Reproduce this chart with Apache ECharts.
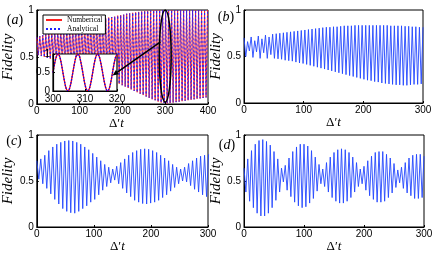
<!DOCTYPE html>
<html><head><meta charset="utf-8">
<script src="https://cdn.jsdelivr.net/npm/echarts@6/dist/echarts.min.js"></script>
<style>html,body{margin:0;padding:0;background:#fff}#c{width:436px;height:258px}</style>
</head><body><div id="c"></div>
<script>
// ---- data ----
// Each panel: alternating extreme values (peak, trough, peak, ...) spaced halfStep apart in Δ't.
const halfStepA = 3.5;
const peaksA   = [0.71,0.72,0.73,0.74,0.75,0.76,0.77,0.78,0.79,0.795,0.80,0.81,0.82,0.83,0.84,0.845,0.855,0.86,0.87,0.88,
                  0.89,0.895,0.90,0.91,0.92,0.925,0.93,0.94,0.945,0.95,0.96,0.965,0.97,0.975,0.98,0.985,0.99,0.992,0.995,0.997,
                  1.0,1.0,1.0,1.0,1.0,1.0,1.0,1.0,1.0,1.0,1.0,1.0,1.0,1.0,1.0,1.0,1.0,1.0];
const troughsA = [0.52,0.51,0.50,0.49,0.48,0.475,0.465,0.455,0.445,0.43,0.42,0.41,0.40,0.39,0.375,0.365,0.355,0.345,0.33,0.32,
                  0.31,0.30,0.285,0.27,0.255,0.24,0.23,0.215,0.20,0.185,0.17,0.155,0.14,0.125,0.11,0.095,0.08,0.065,0.05,0.04,
                  0.025,0.015,0.01,0.005,0.01,0.015,0.02,0.025,0.03,0.035,0.04,0.045,0.05,0.055,0.06,0.065,0.07];

const halfStepB = 3;
const peaksB   = [0.70,0.66,0.71,0.67,0.72,0.69,0.73,0.71,0.74,0.745,0.75,0.755,0.76,0.765,0.77,0.775,0.78,0.785,0.79,0.795,
                  0.80,0.805,0.81,0.815,0.815,0.82,0.82,0.825,0.83,0.83,0.83,0.835,0.835,0.835,0.835,0.835,0.835,0.835,0.835,0.835,
                  0.835,0.83,0.83,0.83,0.83,0.825,0.825,0.82,0.82,0.815,0.815];
const troughsB = [0.50,0.56,0.49,0.55,0.48,0.54,0.48,0.52,0.48,0.475,0.47,0.46,0.455,0.45,0.44,0.43,0.425,0.415,0.405,0.395,
                  0.385,0.375,0.365,0.355,0.345,0.335,0.325,0.315,0.305,0.295,0.285,0.275,0.265,0.255,0.245,0.24,0.23,0.225,0.215,0.21,
                  0.205,0.2,0.195,0.195,0.19,0.19,0.195,0.2,0.2,0.205];

const halfStepC = 3.5;
const peaksC   = [0.72,0.74,0.78,0.83,0.87,0.90,0.92,0.935,0.94,0.935,0.92,0.90,0.87,0.84,0.80,0.76,0.72,0.68,0.65,0.63,
                  0.66,0.70,0.74,0.78,0.81,0.83,0.845,0.85,0.845,0.83,0.81,0.78,0.75,0.72,0.68,0.65,0.63,0.65,0.69,0.72,
                  0.75,0.77,0.78,0.79];
const troughsC = [0.52,0.47,0.42,0.36,0.30,0.25,0.20,0.17,0.155,0.15,0.17,0.20,0.23,0.27,0.30,0.35,0.40,0.44,0.48,0.51,
                  0.47,0.42,0.37,0.33,0.29,0.27,0.255,0.25,0.26,0.27,0.29,0.32,0.35,0.39,0.43,0.47,0.50,0.49,0.45,0.41,
                  0.38,0.35,0.33];

const halfStepD = 3.125;
const peaksD   = [0.64,0.74,0.83,0.90,0.94,0.95,0.93,0.89,0.82,0.74,0.64,0.67,0.75,0.82,0.87,0.90,0.90,0.88,0.83,0.76,
                  0.68,0.63,0.70,0.76,0.81,0.84,0.85,0.84,0.81,0.76,0.70,0.63,0.66,0.72,0.77,0.81,0.82,0.82,0.79,0.75,
                  0.69,0.62,0.65,0.70,0.75,0.78,0.79,0.79,0.77];
const troughsD = [0.38,0.28,0.21,0.15,0.12,0.12,0.15,0.21,0.29,0.38,0.49,0.40,0.33,0.27,0.23,0.21,0.22,0.26,0.31,0.39,
                  0.47,0.44,0.38,0.32,0.28,0.26,0.26,0.28,0.32,0.38,0.44,0.47,0.40,0.34,0.30,0.27,0.27,0.28,0.32,0.37,
                  0.43,0.48,0.42,0.37,0.34,0.31,0.31,0.32];

// inset of panel (a): Δ't from 300 to 320, step 0.5
const insetStart = 300, insetStep = 0.5;
const insetF = [0.50,0.74,0.92,1.00,0.95,0.79,0.55,0.30,0.10,0.01,0.03,0.17,0.40,0.65,0.86,0.98,0.98,0.86,0.65,0.40,
                0.17,0.03,0.01,0.10,0.30,0.55,0.79,0.95,1.00,0.92,0.74,0.50,0.26,0.08,0.00,0.05,0.21,0.45,0.70,0.90,0.99];

const legendNames = ['Numberical','Analytical'];
const panelLabels = ['a','b','c','d'];

// ---- build ----
function zig(peaks, troughs, half){
  const out = [];
  for (let i = 0; i < peaks.length; i++){
    out.push([2*i*half, peaks[i]]);
    if (i < troughs.length) out.push([(2*i+1)*half, troughs[i]]);
  }
  return out;
}
const insetData = insetF.map((v,i)=>[insetStart + i*insetStep, v]);

const serif = 'Liberation Serif', sans = 'Liberation Sans';
const grids = [
  {left:33,  top:10,  width:175, height:94},
  {left:244, top:10,  width:179, height:93},
  {left:33,  top:135, width:175, height:92},
  {left:244, top:135, width:180, height:92},
].map(g=>Object.assign(g,{show:true,borderColor:'#000',borderWidth:1,backgroundColor:'transparent'}));
grids.push({left:53, top:54, width:64, height:37, z:5, show:true, borderColor:'#000', borderWidth:1.2, backgroundColor:'#fff'});

const nameRich = {u:{fontFamily:serif,fontSize:13,color:'#000'}, i:{fontFamily:serif,fontStyle:'italic',fontSize:13,color:'#000'}};
function mkX(gi, max, gap, shift){
  return {type:'value', gridIndex:gi, min:0, max:max, interval:100,
    axisLine:{show:true,onZero:false,lineStyle:{color:'#000',width:1}},
    axisTick:{show:true,inside:true,length:2,lineStyle:{color:'#000'}},
    axisLabel:{color:'#000',fontSize:10,fontFamily:sans,margin:2},
    splitLine:{show:false},
    name:'{u|Δ′}{i|t}', nameLocation:'middle', nameGap:gap,
    nameTextStyle:{padding:[0,shift,0,0], rich:nameRich}};
}
function mkY(gi){
  return {type:'value', gridIndex:gi, min:0, max:1, interval:0.5,
    axisLine:{show:true,onZero:false,lineStyle:{color:'#000',width:1}},
    axisTick:{show:true,inside:true,length:2,lineStyle:{color:'#000'}},
    axisLabel:{color:'#000',fontSize:10,fontFamily:sans,margin:3},
    splitLine:{show:false},
    name:'Fidelity', nameLocation:'middle', nameGap:16,
    nameTextStyle:{fontFamily:serif,fontStyle:'italic',fontSize:15,color:'#000'}};
}
const xAxes = [mkX(0,400,4,12), mkX(1,300,4,0), mkX(2,300,5,10), mkX(3,300,5,0),
  {type:'value', gridIndex:4, min:300, max:320, interval:10, z:7,
   axisLine:{show:true,onZero:false,lineStyle:{color:'#000',width:1.2}},
   axisTick:{show:true,inside:true,length:2,lineStyle:{color:'#000'}},
   axisLabel:{color:'#000',fontSize:10,fontFamily:sans,margin:3}, splitLine:{show:false}}];
const yAxes = [mkY(0), mkY(1), mkY(2), mkY(3),
  {type:'value', gridIndex:4, min:0, max:1, interval:0.5, z:7,
   axisLine:{show:true,onZero:false,lineStyle:{color:'#000',width:1.2}},
   axisTick:{show:true,inside:true,length:2,lineStyle:{color:'#000'}},
   axisLabel:{color:'#000',fontSize:10,fontFamily:sans,margin:3}, splitLine:{show:false}}];

const blue = '#2447ff';
function ln(name, idx, data, color, type, width, extra){
  return Object.assign({type:'line', name:name, xAxisIndex:idx, yAxisIndex:idx, data:data,
    symbol:'none', showSymbol:false, animation:false, clip:true,
    lineStyle:{color:color, width:width, type:type}, itemStyle:{color:color}}, extra||{});
}
const series = [
  ln(legendNames[0], 0, zig(peaksA,troughsA,halfStepA), '#ff2020', 'solid', 0.9),
  ln(legendNames[1], 0, zig(peaksA,troughsA,halfStepA), '#2020ff', [2,2], 0.9),
  ln('b', 1, zig(peaksB,troughsB,halfStepB), blue, 'solid', 0.9),
  ln('c', 2, zig(peaksC,troughsC,halfStepC), blue, 'solid', 0.9),
  ln('d', 3, zig(peaksD,troughsD,halfStepD), blue, 'solid', 0.9),
  ln(legendNames[0], 4, insetData, '#ff0000', 'solid', 1.3, {smooth:0.3, z:6}),
  ln(legendNames[1], 4, insetData, '#0000ff', [1.5,1.5], 1.3, {smooth:0.3, z:6}),
];

const chart = echarts.init(document.getElementById('c'), null, {renderer:'canvas'});
chart.setOption({
  animation:false,
  grid: grids, xAxis: xAxes, yAxis: yAxes, series: series,
  legend:{data:legendNames, left:43, top:15, orient:'vertical', itemWidth:16, itemHeight:8, itemGap:1,
    padding:[1,3,1,2], backgroundColor:'#fff', borderColor:'#000', borderWidth:1, selectedMode:false, z:8,
    itemStyle:{opacity:0, color:'rgba(0,0,0,0)', borderWidth:0},
    textStyle:{fontFamily:serif, fontSize:7.5, color:'#000'}}
});

const toPx = (gi, p) => chart.convertToPixel({gridIndex:gi}, p);
const eTop = toPx(0,[300,1.0]), eBot = toPx(0,[300,0.02]), eL = toPx(0,[286,0.5]);
const cx = eTop[0], cy = (eTop[1]+eBot[1])/2, ry = (eBot[1]-eTop[1])/2, rx = cx - eL[0];
const s = toPx(0,[289,0.66]), e = toPx(4,[318.6,0.42]);
const dx = e[0]-s[0], dy = e[1]-s[1], L = Math.hypot(dx,dy), ux = dx/L, uy = dy/L;
const bx = e[0]-ux*6, by = e[1]-uy*6, px = -uy*2.6, py = ux*2.6;

const labelPos = [[15,20],[226,17],[14,141],[227,145]];
const labelRich = {p:{fontFamily:serif,fontSize:14,fill:'#000'}, i:{fontFamily:serif,fontStyle:'italic',fontSize:14,fill:'#000'}};
const graphics = [
  {type:'ellipse', shape:{cx:cx, cy:cy, rx:rx, ry:ry}, style:{fill:null, stroke:'#000', lineWidth:1.5}, z:20},
  {type:'line', shape:{x1:s[0], y1:s[1], x2:bx, y2:by}, style:{stroke:'#000', lineWidth:1.5}, z:20},
  {type:'polygon', shape:{points:[[e[0],e[1]],[bx+px,by+py],[bx-px,by-py]]}, style:{fill:'#000'}, z:20},
];
panelLabels.forEach((t,i)=>{
  graphics.push({type:'text', x:labelPos[i][0], y:labelPos[i][1], z:20,
    style:{text:'{p|(}{i|'+t+'}{p|)}', rich:labelRich, align:'center', verticalAlign:'middle', fill:'#000'}});
});
chart.setOption({graphic: graphics});
</script></body></html>
